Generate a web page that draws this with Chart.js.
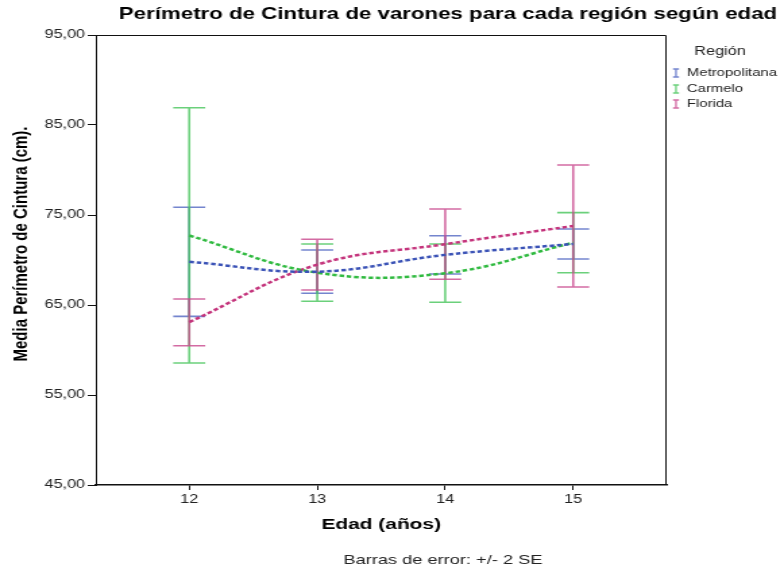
<!DOCTYPE html>
<html>
<head>
<meta charset="utf-8">
<script src="https://cdn.jsdelivr.net/npm/chart.js@4/dist/chart.umd.min.js"></script>
<style>
  html, body { margin: 0; padding: 0; background: #fff; overflow: hidden; }
  #c { display: block; width: 784px !important; height: 573px !important; }
</style>
</head>
<body>
<canvas id="c" width="581" height="573" style="width:784px;height:573px"></canvas>
<script>
// ---- data ----
const ages = [12, 13, 14, 15];
const seriesNames = ['Metropolitana', 'Carmelo', 'Florida'];
const metroMean = [69.80, 68.70, 70.57, 71.78];
const metroLow  = [63.74, 66.30, 68.44, 70.11];
const metroHigh = [75.86, 71.11, 72.70, 73.44];
const carmeloMean = [72.72, 68.59, 68.53, 71.92];
const carmeloLow  = [58.56, 65.41, 65.30, 68.59];
const carmeloHigh = [86.92, 71.78, 71.78, 75.26];
const floridaMean = [63.10, 69.48, 71.76, 73.78];
const floridaLow  = [60.48, 66.67, 67.86, 67.00];
const floridaHigh = [65.67, 72.30, 75.67, 80.56];
const yTicks = [45, 55, 65, 75, 85, 95];

const titleText = 'Perímetro de Cintura de varones para cada región según edad';
const yTitleText = 'Media Perímetro de Cintura (cm).';
const xTitleText = 'Edad (años)';
const legendTitle = 'Región';
const footerText = 'Barras de error: +/- 2 SE';

// ---- style ----
const FONT = "'Liberation Sans', Arial, sans-serif";
const S = 784 / 581;            // horizontal stretch of the picture
const ax = v => v / S;          // actual x -> canvas x
const lineColors = ['rgb(58,82,182)', 'rgb(48,186,64)', 'rgb(196,52,124)'];
const barColors  = ['rgba(70,92,190,0.75)', 'rgba(70,196,90,0.8)', 'rgba(200,70,140,0.8)'];

const means = [metroMean, carmeloMean, floridaMean];
const lows  = [metroLow, carmeloLow, floridaLow];
const highs = [metroHigh, carmeloHigh, floridaHigh];

const datasets = seriesNames.map((n, i) => ({
  label: n,
  data: ages.map((a, j) => ({ x: a, y: means[i][j] })),
  borderColor: lineColors[i],
  backgroundColor: lineColors[i],
  borderWidth: 2.5,
  borderDash: [3.4, 2],
  pointRadius: 0,
  tension: 0.4,
  fill: false
}));

const decor = {
  id: 'decor',
  beforeDatasetsDraw(chart) {
    const ctx = chart.ctx, xs = chart.scales.x, ys = chart.scales.y;
    const cap = ax(16);
    ctx.save();
    ctx.lineWidth = 1.6;
    for (let i = 0; i < seriesNames.length; i++) {
      ctx.strokeStyle = barColors[i];
      for (let j = 0; j < ages.length; j++) {
        const x = xs.getPixelForValue(ages[j]);
        const yl = ys.getPixelForValue(lows[i][j]);
        const yh = ys.getPixelForValue(highs[i][j]);
        ctx.beginPath();
        ctx.moveTo(x, yl); ctx.lineTo(x, yh);
        ctx.moveTo(x - cap, yl); ctx.lineTo(x + cap, yl);
        ctx.moveTo(x - cap, yh); ctx.lineTo(x + cap, yh);
        ctx.stroke();
      }
    }
    ctx.restore();
  },
  afterDraw(chart) {
    const ctx = chart.ctx, ca = chart.chartArea;
    ctx.save();
    // frame: top and right edges (left/bottom are the axes)
    ctx.strokeStyle = '#111';
    ctx.lineWidth = 1;
    ctx.beginPath();
    ctx.moveTo(ca.left, ca.top + 0.5);
    ctx.lineTo(ca.right - 0.5, ca.top + 0.5);
    ctx.lineTo(ca.right - 0.5, ca.bottom);
    ctx.stroke();
    ctx.fillStyle = '#000';
    // title
    ctx.font = 'bold 16.5px ' + FONT;
    ctx.textAlign = 'center';
    ctx.textBaseline = 'middle';
    ctx.fillText(titleText, ax(448), 14);
    // y title
    ctx.save();
    ctx.translate(ax(21), 244);
    ctx.rotate(-Math.PI / 2);
    ctx.font = 'bold 15px ' + FONT;
    ctx.fillText(yTitleText, 0, 0);
    ctx.restore();
    // footer
    ctx.font = '13.5px ' + FONT;
    ctx.fillStyle = '#222';
    ctx.fillText(footerText, ax(443), 560);
    // legend
    ctx.font = '12px ' + FONT;
    ctx.fillText(legendTitle, ax(720), 52);
    ctx.font = '11px ' + FONT;
    ctx.textAlign = 'left';
    const ly = [73, 89, 104];
    for (let i = 0; i < seriesNames.length; i++) {
      const mx = ax(676), y = ly[i];
      ctx.strokeStyle = barColors[i];
      ctx.lineWidth = 1.3;
      ctx.beginPath();
      ctx.moveTo(mx, y - 4); ctx.lineTo(mx, y + 4);
      ctx.moveTo(mx - ax(3), y - 4); ctx.lineTo(mx + ax(3), y - 4);
      ctx.moveTo(mx - ax(3), y + 4); ctx.lineTo(mx + ax(3), y + 4);
      ctx.stroke();
      ctx.fillStyle = '#222';
      ctx.fillText(seriesNames[i], ax(687), y);
    }
    ctx.restore();
  }
};

const chart = new Chart(document.getElementById('c'), {
  type: 'line',
  data: { datasets },
  options: {
    responsive: false,
    animation: false,
    devicePixelRatio: 1,
    layout: { padding: { left: 0, right: 87, top: 35, bottom: 0 } },
    plugins: { legend: { display: false }, tooltip: { enabled: false }, title: { display: false } },
    scales: {
      x: {
        type: 'linear',
        min: 11.27, max: 15.73,
        afterBuildTicks: s => { s.ticks = ages.map(v => ({ value: v })); },
        afterFit: s => { s.height = 88; },
        grid: { drawOnChartArea: false, drawTicks: true, tickLength: 5, color: '#111' },
        border: { display: true, color: '#111', width: 1.5 },
        ticks: { font: { size: 12, family: FONT }, color: '#222', padding: 2, callback: v => String(v) },
        title: { display: true, text: xTitleText, font: { size: 15.5, weight: 'bold', family: FONT }, color: '#000', padding: { top: 0, bottom: 39 } }
      },
      y: {
        min: 45, max: 95,
        afterBuildTicks: s => { s.ticks = yTicks.map(v => ({ value: v })); },
        afterFit: s => { s.width = 71; },
        grid: { drawOnChartArea: false, drawTicks: true, tickLength: 6, color: '#111' },
        border: { display: true, color: '#111', width: 1 },
        ticks: { font: { size: 12, family: FONT }, color: '#222', padding: 2,
                 callback: v => v.toFixed(2).replace('.', ',') }
      }
    }
  },
  plugins: [decor]
});
const cv = document.getElementById('c');
cv.style.width = '784px';
cv.style.height = '573px';
</script>
</body>
</html>
